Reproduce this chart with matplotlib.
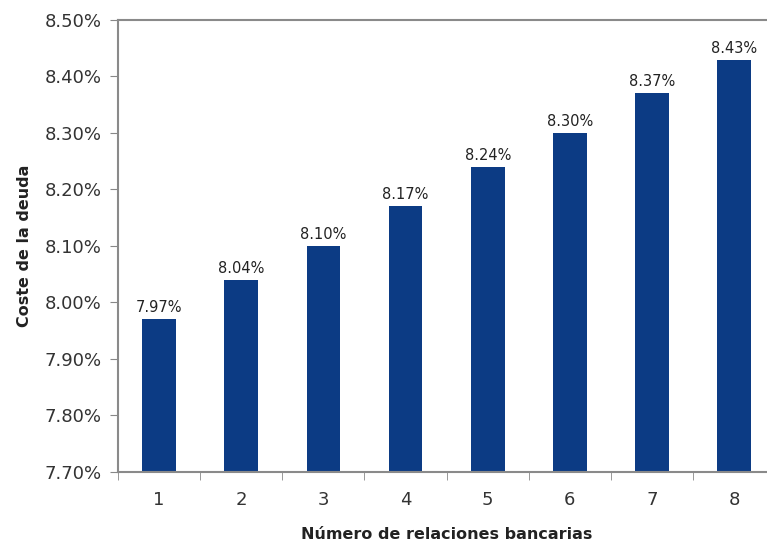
import matplotlib.pyplot as plt
from matplotlib.ticker import FuncFormatter, FixedLocator

plt.rcParams['font.family'] = ['DejaVu Sans']

relaciones = [1, 2, 3, 4, 5, 6, 7, 8]
coste = [7.97, 8.04, 8.10, 8.17, 8.24, 8.30, 8.37, 8.43]

fig = plt.figure(figsize=(7.67, 5.49), dpi=100)
ax = fig.add_axes([0.1538, 0.1403, 0.857, 0.8233])

ax.bar(relaciones, coste, width=0.41, color='#0c3b84', zorder=2)
for x, v in zip(relaciones, coste):
    ax.text(x, v + 0.007, f"{v:.2f}%", ha='center', va='bottom',
            fontsize=10.5, color='#222222')

ax.set_xlim(0.5, 8.5)
ax.set_ylim(7.70, 8.50)
ax.set_yticks([7.7 + 0.1 * i for i in range(9)])
ax.yaxis.set_major_formatter(FuncFormatter(lambda v, p: f"{v:.2f}%"))

# category labels centred on bars, tick marks between them
ax.set_xticks(relaciones)
ax.set_xticklabels([str(r) for r in relaciones])
ax.tick_params(axis='x', which='major', length=0, pad=14)
ax.xaxis.set_minor_locator(FixedLocator([r - 0.5 for r in relaciones]))
ax.tick_params(axis='x', which='minor', length=6, color='#888888', direction='out')
ax.tick_params(axis='y', length=6, color='#888888', direction='out', pad=6)
ax.tick_params(labelsize=13, labelcolor='#333333')

for s in ['left', 'bottom', 'top']:
    ax.spines[s].set_color('#8a8a8a')
    ax.spines[s].set_linewidth(1.5)
ax.spines['right'].set_visible(False)

ax.set_ylabel("Coste de la deuda", fontsize=11.5, fontweight='bold',
              color='#222222', labelpad=9)
ax.set_xlabel("Número de relaciones bancarias", fontsize=11.5,
              fontweight='bold', color='#222222', labelpad=13)

fig.savefig("out.png", dpi=100)
